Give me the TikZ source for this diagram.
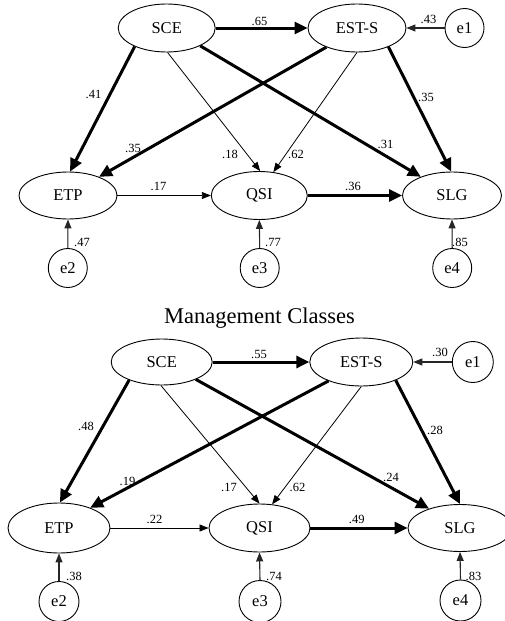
\documentclass[tikz,border=0pt]{standalone}
\usepackage{fontspec}
\setmainfont{Liberation Serif}
\usetikzlibrary{shapes.geometric,arrows.meta}
\begin{document}
\begin{tikzpicture}[x=1pt,y=-1pt,
 lat/.style={ellipse,draw,line width=0.9pt,inner sep=0pt,minimum width=98pt,minimum height=48pt,font=\fontsize{16.5}{18}\selectfont},
 err/.style={circle,draw,line width=0.9pt,inner sep=0pt,minimum size=40pt,font=\fontsize{16.5}{18}\selectfont},
 lbl/.style={inner sep=0pt,font=\fontsize{12.5}{14}\selectfont},
 strong/.style={line width=3pt,-{Triangle[length=13pt,width=12pt]}},
 weak/.style={line width=0.8pt,-{Triangle[length=9pt,width=7pt]}},
 errarr/.style={line width=1.1pt,draw=black!85,fill=black!85,-{Triangle[length=9pt,width=7pt]}}]
\useasboundingbox (0,0) rectangle (505,621);
% ---------- top diagram ----------
\node[lat,minimum width=97pt] (sceA) at (166.7,28) {SCE};
\node[lat] (estA) at (357,28) {EST-S};
\node[err,minimum size=39pt] (eA1) at (464.5,28) {e1};
\node[lat,minimum height=47pt] (etpA) at (68,195.5) {ETP};
\node[lat,minimum width=96pt] (qsiA) at (259.3,195.5) {QSI};
\node[lat,minimum width=99pt,minimum height=47pt] (slgA) at (452,195.5) {SLG};
\node[err,minimum size=39pt] (eA2) at (67.8,268) {e2};
\node[err,minimum size=39pt] (eA3) at (259.7,268) {e3};
\node[err,minimum size=39pt] (eA4) at (452.2,268) {e4};

\draw[strong] (sceA.east) -- (estA.west);
\draw[errarr] (eA1.west) -- (estA.east);
\draw[strong] (sceA.210) -- (etpA.85);
\draw[weak] (sceA.272) -- (qsiA.88);
\draw[strong] (sceA.332) -- (slgA.149);
\draw[strong] (estA.212) -- (etpA.31);
\draw[weak] (estA.270) -- (qsiA.59);
\draw[strong] (estA.329) -- (slgA.92);
\draw[weak] (etpA.east) -- (qsiA.west);
\draw[strong] (qsiA.east) -- (slgA.west);
\draw[errarr] (eA2.north) -- (etpA.south);
\draw[errarr] (eA3.north) -- (qsiA.south);
\draw[errarr] (eA4.north) -- (slgA.south);

\node[lbl] (lA1) at (259.5,21.5) {.65};
\node[lbl] (lA2) at (428.5,19.5) {.43};
\node[lbl] (lA3) at (93.5,94.5) {.41};
\node[lbl] (lA4) at (426,97) {.35};
\node[lbl] (lA5) at (133,148) {.35};
\node[lbl] (lA6) at (230,154) {.18};
\node[lbl] (lA7) at (296,154) {.62};
\node[lbl] (lA8) at (385.5,144) {.31};
\node[lbl] (lA9) at (158.5,186) {.17};
\node[lbl] (lA10) at (353,186) {.36};
\node[lbl] (lA11) at (82,242) {.47};
\node[lbl] (lA12) at (273,242) {.77};
\node[lbl] (lA13) at (460,242) {.85};

\node[anchor=base,inner sep=0pt,font=\fontsize{22.5}{26}\selectfont] (title) at (259.5,323) {Management Classes};

% ---------- bottom diagram ----------
\node[lat,minimum width=101pt,minimum height=46pt] (sceB) at (161.7,362) {SCE};
\node[lat,minimum width=103pt] (estB) at (361.3,362) {EST-S};
\node[err,minimum size=41pt] (eB1) at (472.8,362) {e1};
\node[lat,minimum width=102pt,minimum height=50pt] (etpB) at (59,528) {ETP};
\node[lat,minimum width=101pt] (qsiB) at (259.5,528) {QSI};
\node[lat,minimum width=104pt,minimum height=47pt] (slgB) at (460,528) {SLG};
\node[err] (eB2) at (59,601.5) {e2};
\node[err,minimum size=42pt] (eB3) at (260,601.5) {e3};
\node[err,minimum size=41pt] (eB4) at (460.5,600.5) {e4};

\draw[strong] (sceB.east) -- (estB.west);
\draw[errarr] (eB1.west) -- (estB.east);
\draw[strong] (sceB.209) -- (etpB.88);
\draw[weak] (sceB.268) -- (qsiB.90);
\draw[strong] (sceB.333) -- (slgB.148);
\draw[strong] (estB.210) -- (etpB.33);
\draw[weak] (estB.270) -- (qsiB.62);
\draw[strong] (estB.332) -- (slgB.90);
\draw[weak] (etpB.east) -- (qsiB.west);
\draw[strong] (qsiB.east) -- (slgB.west);
\draw[errarr] (eB2.north) -- (etpB.south);
\draw[errarr] (eB3.north) -- (qsiB.south);
\draw[errarr] (eB4.north) -- (slgB.south);

\node[lbl] (lB1) at (259,354.5) {.55};
\node[lbl] (lB2) at (440,352.5) {.30};
\node[lbl] (lB3) at (86,426.7) {.48};
\node[lbl] (lB4) at (435,430) {.28};
\node[lbl] (lB5) at (127.5,481) {.19};
\node[lbl] (lB6) at (229,487) {.17};
\node[lbl] (lB7) at (297.5,487) {.62};
\node[lbl] (lB8) at (391,477) {.24};
\node[lbl] (lB9) at (154.5,519.5) {.22};
\node[lbl] (lB10) at (356.7,519) {.49};
\node[lbl] (lB11) at (74,576) {.38};
\node[lbl] (lB12) at (274,576) {.74};
\node[lbl] (lB13) at (473.5,576) {.83};
\end{tikzpicture}
\end{document}
